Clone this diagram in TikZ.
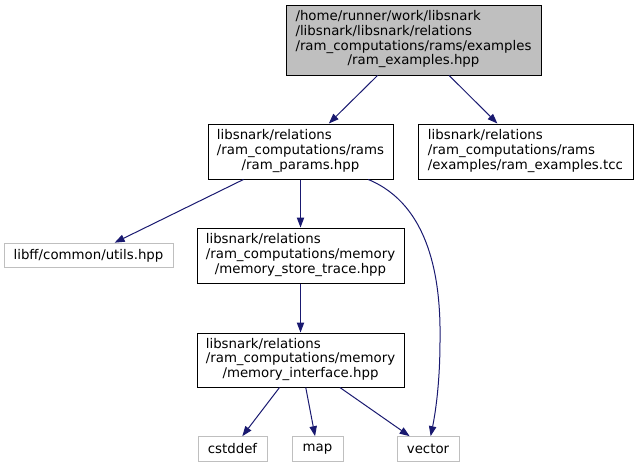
\documentclass[tikz,border=0pt]{standalone}
\usepackage{fontspec}
\setmainfont{DejaVu Sans}
\usetikzlibrary{arrows.meta}
\definecolor{edgeblue}{HTML}{191970}
\definecolor{greyfill}{HTML}{BFBFBF}
\newcommand{\lines}[2]{\begin{tabular}{@{}l@{}}#1\multicolumn{1}{@{}c@{}}{#2}\end{tabular}}
\tikzset{
  box/.style={draw=black, line width=0.75pt, fill=white, inner sep=0pt, rectangle,
    font=\fontsize{10}{11}\selectfont, text=black},
  mainbox/.style={box, fill=greyfill},
  extbox/.style={box, draw=greyfill, minimum height=18.5pt},
  edge/.style={draw=edgeblue, line width=0.75pt, -{Triangle[length=7.5pt,width=5.5pt]}},
}
\begin{document}
\begin{tikzpicture}[x=0.75pt,y=-0.75pt]
\useasboundingbox (0,0) rectangle (638,468);
\node[mainbox, minimum width=191.25pt, minimum height=52.5pt] (top) at (413.5,40)
  {\lines{/home/runner/work/libsnark\\/libsnark/libsnark/relations\\/ram\_computations/rams/examples\\}{/ram\_examples.hpp}};
\node[box, minimum width=138.75pt, minimum height=41.25pt] (params) at (300.5,151.5)
  {\lines{libsnark/relations\\/ram\_computations/rams\\}{/ram\_params.hpp}};
\node[box, minimum width=161.25pt, minimum height=41.25pt] (tcc) at (525.5,151.5)
  {\lines{libsnark/relations\\/ram\_computations/rams\\}{/examples/ram\_examples.tcc}};
\node[extbox, minimum width=126.75pt] (utils) at (88.5,255.5) {libff/common/utils.hpp};
\node[box, minimum width=155.25pt, minimum height=41.25pt] (store) at (300.5,255.5)
  {\lines{libsnark/relations\\/ram\_computations/memory\\}{/memory\_store\_trace.hpp}};
\node[box, minimum width=155.25pt, minimum height=40.5pt] (iface) at (300.5,360)
  {\lines{libsnark/relations\\/ram\_computations/memory\\}{/memory\_interface.hpp}};
\node[extbox, minimum width=51.75pt] (cstddef) at (232.5,449) {cstddef};
\node[extbox, minimum width=38.25pt] (map) at (317.5,449) {map};
\node[extbox, minimum width=46.5pt] (vector) at (428,449) {vector};
\draw[edge] (top) -- (params);
\draw[edge] (top) -- (tcc);
\draw[edge] (params) -- (utils);
\draw[edge] (params) -- (store);
\draw[edge] (params) .. controls (430,205) and (441,280) .. (440,340)
  .. controls (440,380) and (436,410) .. (vector);
\draw[edge] (store) -- (iface);
\draw[edge] (iface) -- (cstddef);
\draw[edge] (iface) -- (map);
\draw[edge] (iface) -- (vector);
\end{tikzpicture}
\end{document}
